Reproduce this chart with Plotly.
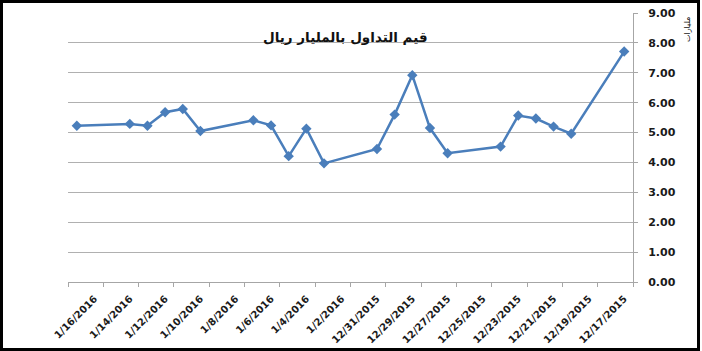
import plotly.graph_objects as go

# ---- data ----
dates = ["2016-01-17", "2016-01-14", "2016-01-13", "2016-01-12", "2016-01-11",
         "2016-01-10", "2016-01-07", "2016-01-06", "2016-01-05", "2016-01-04",
         "2016-01-03", "2015-12-31", "2015-12-30", "2015-12-29", "2015-12-28",
         "2015-12-27", "2015-12-24", "2015-12-23", "2015-12-22", "2015-12-21",
         "2015-12-20", "2015-12-17"]
values = [5.23, 5.29, 5.23, 5.68, 5.79, 5.05, 5.41, 5.24, 4.21, 5.13, 3.97,
          4.45, 5.60, 6.92, 5.15, 4.31, 4.53, 5.57, 5.47, 5.20, 4.96, 7.71]

tick_dates = ["2016-01-16", "2016-01-14", "2016-01-12", "2016-01-10", "2016-01-08",
              "2016-01-06", "2016-01-04", "2016-01-02", "2015-12-31", "2015-12-29",
              "2015-12-27", "2015-12-25", "2015-12-23", "2015-12-21", "2015-12-19",
              "2015-12-17"]
tick_labels = ["1/16/2016", "1/14/2016", "1/12/2016", "1/10/2016", "1/8/2016",
               "1/6/2016", "1/4/2016", "1/2/2016", "12/31/2015", "12/29/2015",
               "12/27/2015", "12/25/2015", "12/23/2015", "12/21/2015", "12/19/2015",
               "12/17/2015"]

title_text = "قيم التداول بالمليار ريال"
y_title = "مليارات"

W, H = 702, 351
ML, MR, MT, MB = 68, 69, 13, 69
pw, ph = W - ML - MR, H - MT - MB

fig = go.Figure()
fig.add_trace(go.Scatter(
    x=dates, y=values, mode="lines+markers",
    line=dict(color="#4a7ebb", width=2.5),
    marker=dict(symbol="diamond", size=8, color="#4a7ebb"),
    hoverinfo="x+y", showlegend=False,
))

axis_gray = "#a6a6a6"
fig.update_layout(
    width=W, height=H,
    margin=dict(l=ML, r=MR, t=MT, b=MB, pad=0, autoexpand=False),
    paper_bgcolor="white", plot_bgcolor="white",
    font=dict(family="DejaVu Sans", color="#1a1a1a"),
    xaxis=dict(
        type="date", automargin=False,
        range=["2016-01-17 12:00", "2015-12-16 12:00"],
        tickmode="array", tickvals=tick_dates, ticktext=tick_labels,
        tickangle=-45,
        tickfont=dict(family="DejaVu Sans", size=10, weight="bold", color="#1a1a1a"),
        ticks="", showgrid=False,
        showline=True, linecolor=axis_gray, linewidth=1,
        ticklabelstandoff=6,
        minor=dict(tick0="2015-12-16 12:00", dtick=172800000, ticks="outside",
                   ticklen=4, tickcolor=axis_gray, showgrid=False),
        zeroline=False, fixedrange=True,
    ),
    yaxis=dict(
        side="right", range=[0, 9], dtick=1, tickformat=".2f", automargin=False,
        tickfont=dict(family="DejaVu Sans", size=11, weight="bold", color="#1a1a1a"),
        showgrid=True, gridcolor="#b0b0b0", gridwidth=1,
        showline=True, linecolor=axis_gray, linewidth=1,
        ticks="outside", ticklen=4, tickcolor=axis_gray,
        ticklabelstandoff=8,
        zeroline=False, fixedrange=True,
    ),
    annotations=[
        dict(text=title_text, xref="paper", yref="paper",
             x=(345 - ML) / pw, y=(H - MB - 37) / ph, showarrow=False,
             font=dict(family="DejaVu Sans", size=13.5, weight="bold", color="#111111"),
             xanchor="center", yanchor="middle"),
        dict(text=y_title, xref="paper", yref="paper",
             x=(688 - ML) / pw, y=(H - MB - 30) / ph, showarrow=False,
             textangle=-90,
             font=dict(family="DejaVu Sans", size=8, color="#111111"),
             xanchor="center", yanchor="middle"),
    ],
    shapes=[
        dict(type="rect", xref="paper", yref="paper",
             x0=(1.5 - ML) / pw, x1=(W - 3.5 - ML) / pw,
             y0=-(MB - 1.5) / ph, y1=1 + (MT - 1.5) / ph,
             line=dict(color="black", width=3), fillcolor="rgba(0,0,0,0)",
             layer="above"),
    ],
)

fig.write_html("out.html")
